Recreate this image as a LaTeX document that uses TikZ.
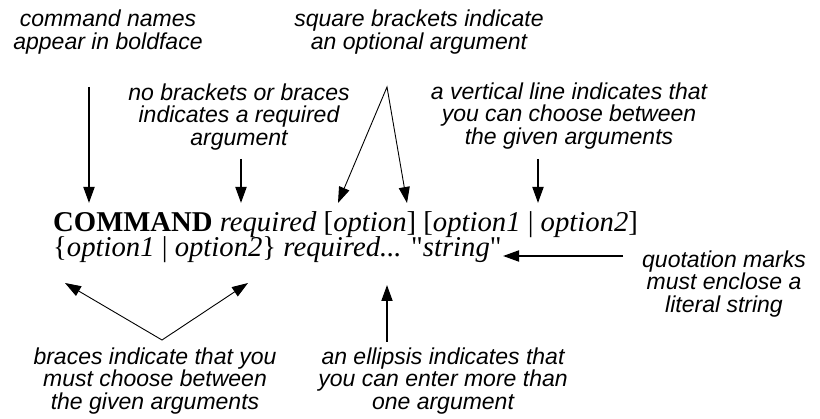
\documentclass[tikz,border=0pt]{standalone}
\usepackage{fontspec}
\setmainfont{Liberation Serif}
\newfontfamily\notefont{Liberation Sans}
\newfontfamily\quotefont{Liberation Serif}
\newcommand{\qm}{{\quotefont"}}
\usepackage{tikz}
\usetikzlibrary{arrows.meta}

\begin{document}
\begin{tikzpicture}[x=1pt, y=-1pt,
    note/.style={align=center, inner sep=0pt, font=\notefont\itshape\fontsize{23}{22.5}\selectfont},
    syntax/.style={anchor=base west, inner sep=0pt, font=\fontsize{28.7}{25}\selectfont},
    pointer/.style={-{Triangle[length=16pt, width=11pt]}, line width=1.8pt},
    splitptr/.style={{Triangle[length=16pt, width=11pt]}-{Triangle[length=16pt, width=11pt]}, line width=0.9pt}]

  \useasboundingbox (0,0) rectangle (820,419);

  % -- the syntax line -----------------------------------------------------
  \node[syntax] (line1) at (53,232)
    {\textbf{COMMAND} \textit{required} [\textit{option}] [\textit{option1} | \textit{option2}]};
  \node[syntax] (line2) at (53,257)
    {\{\textit{option1} | \textit{option2}\} \textit{required...} \qm\textit{string}\qm};

  % -- notes above ---------------------------------------------------------
  \node[note] (bold) at (108,32) {command names\\appear in boldface};
  \node[note] (square) at (419,32) {square brackets indicate\\an optional argument};
  \node[note] (plain) at (239,117) {no brackets or braces\\indicates a required\\argument};
  \node[note] (vbar) at (569,116) {a vertical line indicates that\\you can choose between\\the given arguments};

  % -- notes to the right and below ----------------------------------------
  \node[note] (quote) at (724,284) {quotation marks\\must enclose a\\literal string};
  \node[note] (brace) at (155,381) {braces indicate that you\\must choose between\\the given arguments};
  \node[note] (dots) at (443,381) {an ellipsis indicates that\\you can enter more than\\one argument};

  % -- where the arrows start and end ---------------------------------------
  \coordinate (bold-from) at (89,87);    \coordinate (bold-to) at (89,203);
  \coordinate (plain-from) at (241,159); \coordinate (plain-to) at (241,203);
  \coordinate (square-apex) at (387,87);
  \coordinate (square-l) at (338,203);   \coordinate (square-r) at (407,203);
  \coordinate (vbar-from) at (538,159);  \coordinate (vbar-to) at (538,203);
  \coordinate (quote-from) at (623,256); \coordinate (quote-to) at (503,256);
  \coordinate (brace-apex) at (162,340);
  \coordinate (brace-l) at (65,283);     \coordinate (brace-r) at (248,283);
  \coordinate (dots-from) at (387,342);  \coordinate (dots-to) at (387,285);

  % -- arrows ----------------------------------------------------------------
  \draw[pointer] (bold-from) -- (bold-to);
  \draw[pointer] (plain-from) -- (plain-to);
  \draw[splitptr] (square-l) -- (square-apex) -- (square-r);
  \draw[pointer] (vbar-from) -- (vbar-to);
  \draw[pointer] (quote-from) -- (quote-to);
  \draw[splitptr] (brace-l) -- (brace-apex) -- (brace-r);
  \draw[pointer] (dots-from) -- (dots-to);

\end{tikzpicture}
\end{document}
